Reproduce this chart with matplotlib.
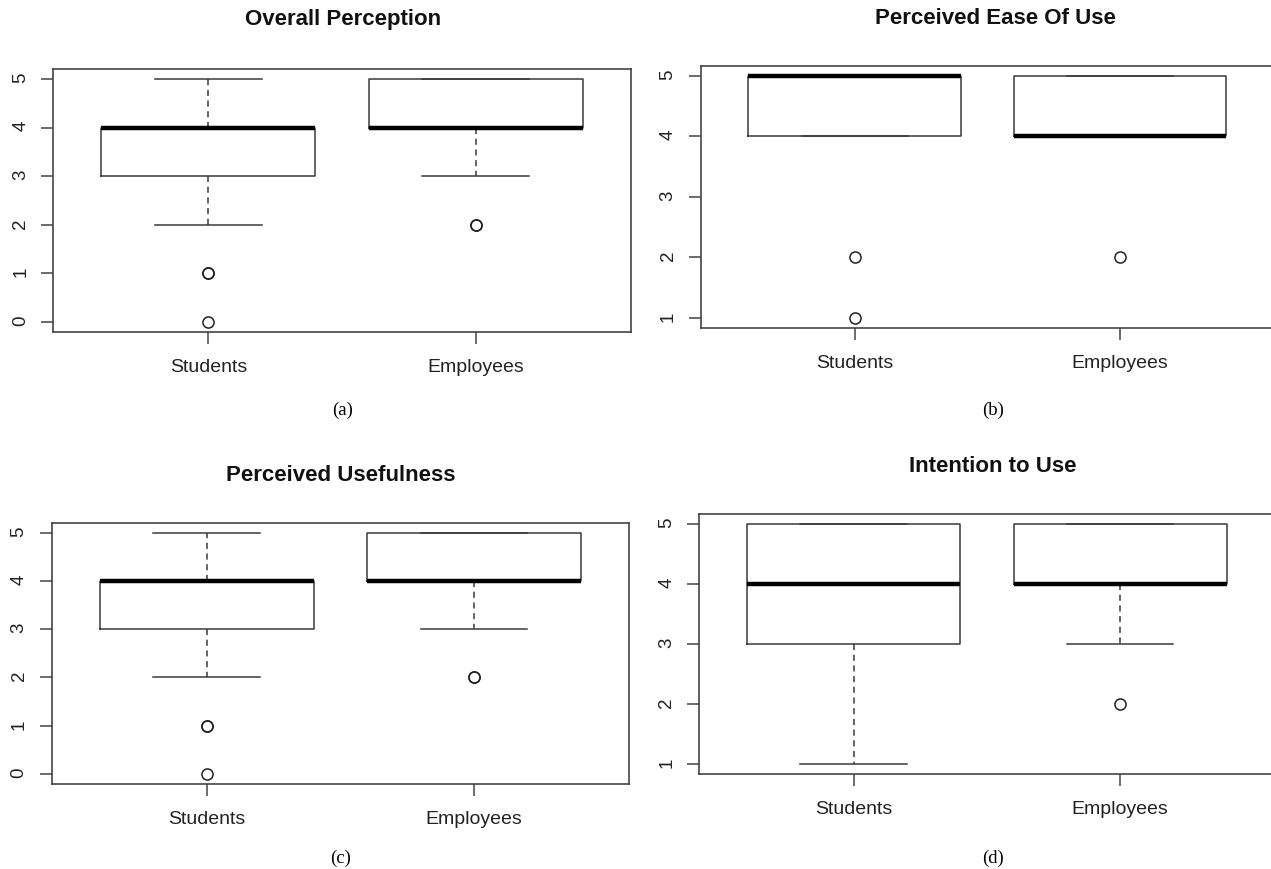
import matplotlib.pyplot as plt

plt.rcParams['font.family'] = ['Liberation Sans', 'DejaVu Sans']

groups = ["Students", "Employees"]
titles = ["Overall Perception", "Perceived Ease Of Use",
          "Perceived Usefulness", "Intention to Use"]
captions = ["(a)", "(b)", "(c)", "(d)"]

# five-number summaries per panel: [Students, Employees]
q1 = [[3, 4], [4, 4], [3, 4], [3, 4]]
med = [[4, 4], [5, 4], [4, 4], [4, 4]]
q3 = [[4, 5], [5, 5], [4, 5], [5, 5]]
whislo = [[2, 3], [4, 4], [2, 3], [1, 3]]
whishi = [[5, 5], [5, 5], [5, 5], [5, 5]]
# outliers (repeated values = several respondents)
fliers = [
    [[1, 1, 0], [2, 2]],
    [[2, 1], [2]],
    [[1, 1, 0], [2, 2]],
    [[], [2]],
]

W, H = 1271, 869
# axes frames in pixels: left, right, top, bottom
frames = [
    (53.3, 630.7, 69.3, 331.7),
    (700.7, 1273.7, 66.0, 327.7),
    (51.7, 629.0, 523.0, 783.7),
    (699.3, 1274.5, 514.3, 774.0),
]
title_y = [19, 18, 476, 467]
title_x = [343, 995, 341, 993]
cap_y = [410, 410, 858, 858]
cap_x = [343, 993, 341, 993]

fig = plt.figure(figsize=(W / 100, H / 100), dpi=100)

edge = "#3a3a3a"

for i in range(4):
    l, r, t, b = frames[i]
    ax = fig.add_axes([l / W, 1 - b / H, (r - l) / W, (b - t) / H])

    stats = []
    for j in range(2):
        stats.append(dict(med=med[i][j], q1=q1[i][j], q3=q3[i][j],
                          whislo=whislo[i][j], whishi=whishi[i][j],
                          fliers=fliers[i][j], label=groups[j]))

    ax.bxp(stats, positions=[1, 2], widths=0.8, capwidths=0.4,
           boxprops=dict(color=edge, linewidth=1.1),
           whiskerprops=dict(color=edge, linewidth=1.1, linestyle=(0, (4, 3))),
           capprops=dict(color=edge, linewidth=1.1),
           medianprops=dict(color="black", linewidth=3.2, solid_capstyle="butt"),
           flierprops=dict(marker="o", markerfacecolor="none",
                           markeredgecolor="#222222", markersize=8,
                           markeredgewidth=1.1))

    # R style axis limits: data range padded by 4%
    allv = [v for j in range(2) for v in
            [whislo[i][j], whishi[i][j]] + fliers[i][j]]
    lo, hi = min(allv), max(allv)
    pad = (hi - lo) * 0.04
    ax.set_ylim(lo - pad, hi + pad)
    ax.set_xlim(0.5 - 0.08, 2.5 + 0.08)
    ax.set_yticks(range(int(lo), int(hi) + 1))

    for s in ax.spines.values():
        s.set_color("#444444")
        s.set_linewidth(1.2)

    ax.tick_params(axis="both", colors="#444444", labelcolor="#222222",
                   length=8.4, width=1.1, labelsize=14)
    ax.tick_params(axis="x", pad=11)
    ax.tick_params(axis="y", labelrotation=90, pad=9, labelsize=13.5)

    fig.text(title_x[i] / W, 1 - title_y[i] / H, titles[i],
             ha="center", va="center", fontsize=16, fontweight="bold",
             color="#111111")

    fig.text(cap_x[i] / W, 1 - cap_y[i] / H, captions[i],
             ha="center", va="center", fontsize=13.5,
             family=["Liberation Serif", "DejaVu Serif"])

fig.savefig("out.png", dpi=100)
